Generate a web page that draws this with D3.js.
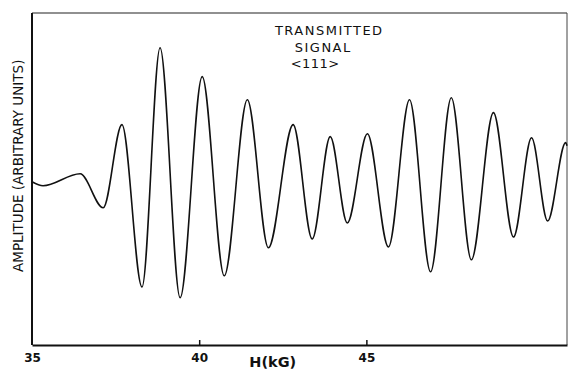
<!DOCTYPE html>
<html>
<head>
<meta charset="utf-8">
<script src="https://cdn.jsdelivr.net/npm/d3@7"></script>
<style>
  body { margin: 0; background: #fff; }
  text { font-family: "DejaVu Sans", sans-serif; fill: #111; }
</style>
</head>
<body>
<script>
  // field values (kG) and amplitude (arbitrary units)
  var fieldH = [35.0, 35.33, 36.44, 37.13, 37.69, 38.29, 38.83, 39.43, 40.09, 40.75,
                41.44, 42.07, 42.81, 43.38, 43.92, 44.43, 45.03, 45.66, 46.29, 46.92,
                47.54, 48.14, 48.80, 49.40, 49.94, 50.42, 50.96, 51.0];
  var amplitude = [0, -0.10, 0.20, -0.65, 1.43, -2.63, 3.35, -2.90, 2.63, -2.35,
                   2.05, -1.65, 1.43, -1.43, 1.13, -1.03, 1.20, -1.63, 2.05, -2.25,
                   2.10, -1.95, 1.73, -1.38, 1.10, -0.98, 0.98, 0.90];
  var tickValues = [35, 40, 45];
  var titleLines = ["TRANSMITTED", "SIGNAL", "<111>"];
  var titleCenters = [43.89, 43.71, 43.47]; // kG, centre of each line

  //Viz space
  var margin = {top: 13, right: 2, bottom: 27, left: 32},
    width = 569 - margin.left - margin.right,
    height = 372 - margin.top - margin.bottom;

  var svg = d3.select("body").append("svg")
              .attr("width", 569)
              .attr("height", 372)
            .append("g")
              .attr("transform", "translate(" + margin.left + "," + margin.top + ")");

  var x = d3.scaleLinear().domain([35, 51]).range([0, width]);
  var y = d3.scaleLinear().domain([-4.08, 4.22]).range([height, 0]);

  var data = fieldH.map(function(h, i) { return {h: h, a: amplitude[i]}; });

  // frame: heavy left/bottom, light top/right
  svg.append("line").attr("x1", 0).attr("x2", width).attr("y1", 0).attr("y2", 0)
     .attr("stroke", "#222").attr("stroke-width", 1.2);
  svg.append("line").attr("x1", width).attr("x2", width).attr("y1", 0).attr("y2", height)
     .attr("stroke", "#444").attr("stroke-width", 1);

  var xAxis = svg.append("g")
      .attr("transform", "translate(0," + height + ")")
      .call(d3.axisBottom(x).tickValues(tickValues).tickSizeInner(-5).tickSizeOuter(0)
              .tickFormat(d3.format("d")));
  xAxis.select(".domain").attr("stroke", "#111").attr("stroke-width", 2);
  xAxis.selectAll(".tick line").attr("stroke", "#111").attr("stroke-width", 1.5)
       .filter(function(d) { return d === 35; }).remove();
  xAxis.selectAll(".tick text")
       .attr("y", 8).attr("dy", "0.71em")
       .style("font-size", "12px").style("font-weight", "bold")
       .style("font-family", "DejaVu Sans, sans-serif");

  svg.append("line").attr("x1", 0).attr("x2", 0).attr("y1", 0).attr("y2", height)
     .attr("stroke", "#111").attr("stroke-width", 2);

  // the trace
  var line = d3.line()
      .x(function(d) { return x(d.h); })
      .y(function(d) { return y(d.a); })
      .curve(d3.curveMonotoneX);

  svg.append("path").datum(data)
     .attr("d", line)
     .attr("fill", "none")
     .attr("stroke", "#111")
     .attr("stroke-width", 1.6);

  // x label
  svg.append("text")
     .attr("x", x(42.2)).attr("y", height + 22)
     .attr("text-anchor", "middle")
     .style("font-size", "14.5px").style("font-weight", "bold")
     .text("H(kG)");

  // y label
  svg.append("text")
     .attr("transform", "translate(-9," + y(0.4) + ") rotate(-90)")
     .attr("text-anchor", "middle")
     .style("font-size", "13.5px")
     .text("AMPLITUDE (ARBITRARY UNITS)");

  // annotation
  svg.append("g").selectAll("text").data(titleLines).enter()
     .append("text")
     .attr("text-anchor", "middle")
     .attr("x", function(d, i) { return x(titleCenters[i]); })
     .attr("y", function(d, i) { return 22 + i * 16.5; })
     .style("font-size", "13px")
     .style("letter-spacing", function(d, i) { return i === 2 ? "0.5px" : "1.5px"; })
     .text(function(d) { return d; });
</script>
</body>
</html>
